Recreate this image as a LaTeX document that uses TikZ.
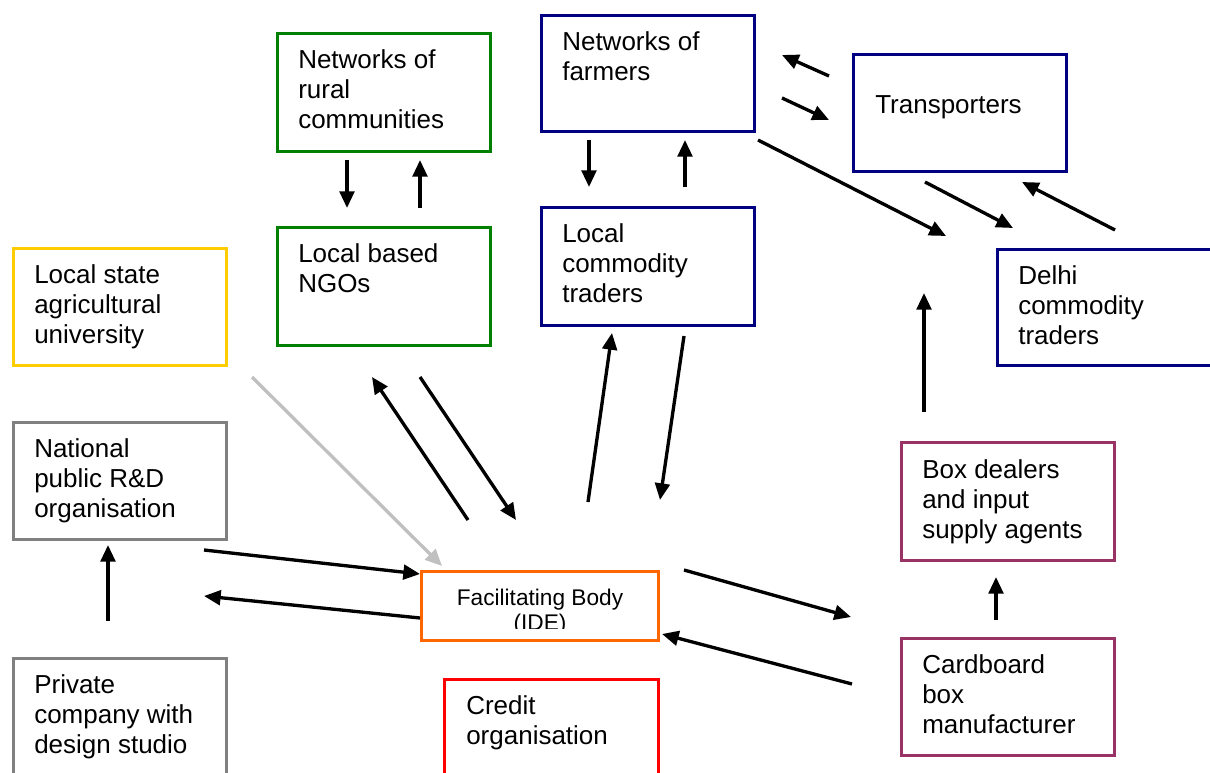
\documentclass[tikz,border=0pt]{standalone}
\usepackage{fontspec}
\setmainfont{Liberation Sans}
\usetikzlibrary{arrows.meta,fit}
\definecolor{cgreen}{HTML}{008000}
\definecolor{cnavy}{HTML}{000080}
\definecolor{cyellow}{HTML}{FFCC00}
\definecolor{cgray}{HTML}{808080}
\definecolor{cpurple}{HTML}{993366}
\definecolor{corange}{HTML}{FF6600}
\definecolor{cred}{HTML}{FF0000}
\definecolor{clgray}{HTML}{C0C0C0}
\newcommand\st{\rule{0pt}{15pt}}
\newcommand\bx[6]{\node[box,draw=#6,fit={(#2,#3)(#4,#5)}] (#1) {};}
\begin{document}
\begin{tikzpicture}[x=0.75pt,y=-0.75pt,
  box/.style={line width=2.25pt,inner sep=0pt},
  lbl/.style={anchor=north west,inner sep=0pt,align=left,font=\fontsize{19.5}{22.5}\selectfont},
  arr/.style={line width=2.5pt,-{Triangle[length=12.5pt,width=11pt]}},
  garr/.style={arr,draw=clgray},
]
\useasboundingbox (0,0) rectangle (1210,773);
\clip (0,0) rectangle (1210,773);

% boxes
\bx{rural}{277.5}{33.5}{490.5}{151.5}{cgreen}
\bx{ngos}{277.5}{227.5}{490.5}{345.5}{cgreen}
\bx{farmers}{541.5}{15.5}{754.5}{131.5}{cnavy}
\bx{ltraders}{541.5}{207.5}{754.5}{325.5}{cnavy}
\bx{transp}{853.5}{54.5}{1066.5}{171.5}{cnavy}
\bx{delhi}{997.5}{249.5}{1214}{365.5}{cnavy}
\bx{univ}{13.5}{248.5}{226.5}{365.5}{cyellow}
\bx{natl}{13.5}{422.5}{226.5}{539.5}{cgray}
\bx{dealers}{901.5}{442.5}{1114.5}{560.5}{cpurple}
\bx{fb}{421.5}{571.5}{658.5}{640.5}{corange}
\bx{private}{13.5}{658.5}{226.5}{780}{cgray}
\bx{credit}{444.5}{679.5}{658.5}{780}{cred}
\bx{cardboard}{901.5}{638.5}{1114.5}{755.5}{cpurple}

% labels
\node[lbl] (ruralT) at (298,48) {\st Networks of\\rural\\communities};
\node[lbl] (ngosT) at (298,242) {\st Local based\\NGOs};
\node[lbl] (farmersT) at (562,30) {\st Networks of\\farmers};
\node[lbl] (ltradersT) at (562,222) {\st Local\\commodity\\traders};
\node[lbl] (transpT) at (875,93) {\st Transporters};
\node[lbl] (delhiT) at (1018,264) {\st Delhi\\commodity\\traders};
\node[lbl] (univT) at (34,263) {\st Local state\\agricultural\\university};
\node[lbl] (natlT) at (34,437) {\st National\\public R\&D\\organisation};
\node[lbl] (dealersT) at (922,458) {\st Box dealers\\and input\\supply agents};
\node[lbl] (cardboardT) at (922,653) {\st Cardboard\\box\\manufacturer};
\node[lbl] (privateT) at (34,673) {\st Private\\company with\\design studio};
\node[lbl] (creditT) at (466,694) {\st Credit\\organisation};
\begin{scope}
\clip (421.5,571.5) rectangle (658.5,628);
\node[anchor=north,inner sep=0pt,align=center,font=\fontsize{17}{19}\selectfont] (fbT) at (540,587.7) {\rule{0pt}{13pt}Facilitating Body\\(IDE)};
\end{scope}

% arrow end points
\coordinate (a1s) at (347,160); \coordinate (a1e) at (347,208);
\coordinate (a2s) at (420,208); \coordinate (a2e) at (420,160);
\coordinate (a3s) at (589,140); \coordinate (a3e) at (589,187);
\coordinate (a4s) at (685,187); \coordinate (a4e) at (685,140);
\coordinate (a5s) at (829,76);  \coordinate (a5e) at (782,55);
\coordinate (a6s) at (782,98);  \coordinate (a6e) at (829,120);
\coordinate (a7s) at (758,140); \coordinate (a7e) at (946,236);
\coordinate (a8s) at (925,182); \coordinate (a8e) at (1013,228);
\coordinate (a9s) at (1115,230); \coordinate (a9e) at (1022,182);
\coordinate (a10s) at (924,412); \coordinate (a10e) at (924,293);
\coordinate (a11s) at (996,620); \coordinate (a11e) at (996,577);
\coordinate (a12s) at (468,520); \coordinate (a12e) at (372,377);
\coordinate (a13s) at (420,377); \coordinate (a13e) at (516,520);
\coordinate (a14s) at (588,502); \coordinate (a14e) at (612,333);
\coordinate (a15s) at (684,336); \coordinate (a15e) at (660,500);
\coordinate (a16s) at (252,377); \coordinate (a16e) at (442,566);
\coordinate (a17s) at (204,550); \coordinate (a17e) at (420,574);
\coordinate (a18s) at (420,618); \coordinate (a18e) at (204,596);
\coordinate (a19s) at (108,621); \coordinate (a19e) at (108,545);
\coordinate (a20s) at (684,570); \coordinate (a20e) at (851,617);
\coordinate (a21s) at (852,684); \coordinate (a21e) at (662,634);

\foreach \i in {1,2,3,4,5,6,7,8,9,10,11,12,13,14,15,17,18,19,20,21}
  \draw[arr] (a\i s) -- (a\i e);
\draw[garr] (a16s) -- (a16e);
\end{tikzpicture}
\end{document}
